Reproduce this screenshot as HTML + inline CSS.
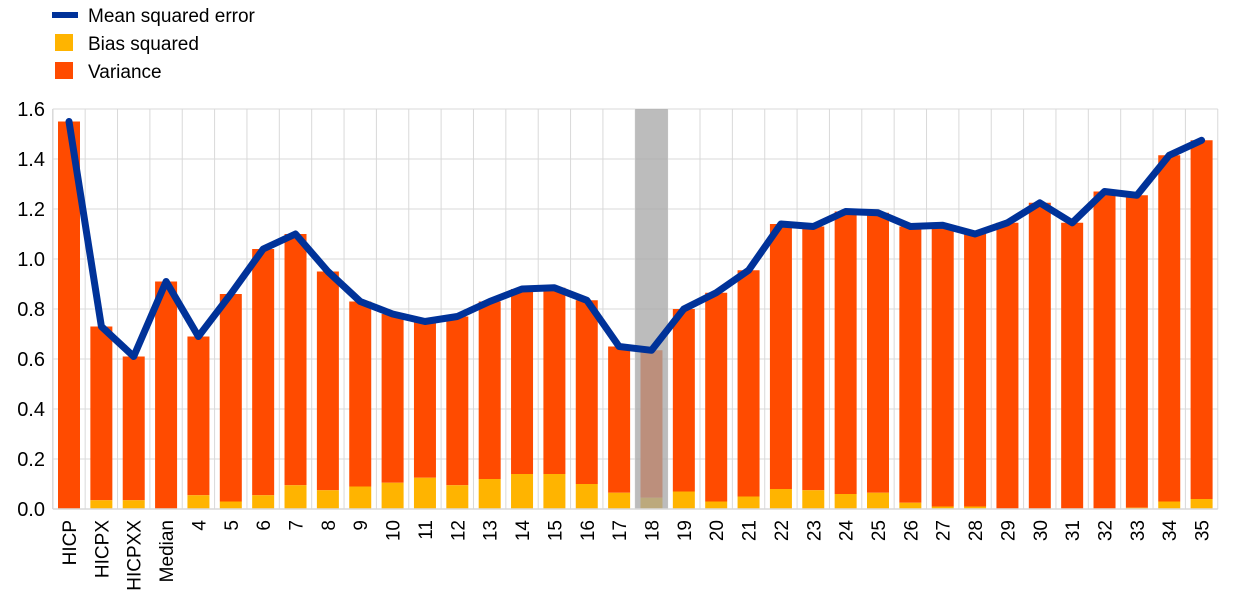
<!DOCTYPE html>
<html><head><meta charset="utf-8"><style>
html,body{margin:0;padding:0;background:#fff;}
svg{display:block;font-family:"Liberation Sans",Arial,sans-serif;}
</style></head><body>
<svg id="s" width="1240" height="609" viewBox="0 0 1240 609" xmlns="http://www.w3.org/2000/svg">
<rect width="1240" height="609" fill="#fff"/>
<g id="grid" stroke="#d9d9d9" stroke-width="1"></g>
<g id="bars"></g>
<rect x="635.3" y="109" width="32.4" height="400" fill="#a6a6a6" fill-opacity="0.75"/>
<polyline id="line" fill="none" stroke="#003299" stroke-width="7" stroke-linejoin="round" stroke-linecap="round"/>
<line x1="52.8" y1="509" x2="1217.8" y2="509" stroke="#d9d9d9" stroke-width="1.5"/>
<line x1="52.8" y1="109" x2="52.8" y2="509" stroke="#d9d9d9" stroke-width="1.5"/>
<g font-size="20" fill="#000" text-anchor="end">
<text x="45" y="516">0.0</text><text x="45" y="466">0.2</text><text x="45" y="416">0.4</text><text x="45" y="366">0.6</text><text x="45" y="316">0.8</text><text x="45" y="266">1.0</text><text x="45" y="216">1.2</text><text x="45" y="166">1.4</text><text x="45" y="116">1.6</text>
</g>
<g font-size="19" fill="#000" text-anchor="end">
<text transform="translate(76,520) rotate(-90)">HICP</text>
<text transform="translate(108.4,520) rotate(-90)">HICPX</text>
<text transform="translate(140.7,520) rotate(-90)">HICPXX</text>
<text transform="translate(173.1,520) rotate(-90)">Median</text>
<text transform="translate(205.4,520) rotate(-90)">4</text>
<text transform="translate(237.8,520) rotate(-90)">5</text>
<text transform="translate(270.2,520) rotate(-90)">6</text>
<text transform="translate(302.5,520) rotate(-90)">7</text>
<text transform="translate(334.9,520) rotate(-90)">8</text>
<text transform="translate(367.2,520) rotate(-90)">9</text>
<text transform="translate(399.6,520) rotate(-90)">10</text>
<text transform="translate(432,520) rotate(-90)">11</text>
<text transform="translate(464.3,520) rotate(-90)">12</text>
<text transform="translate(496.7,520) rotate(-90)">13</text>
<text transform="translate(529,520) rotate(-90)">14</text>
<text transform="translate(561.4,520) rotate(-90)">15</text>
<text transform="translate(593.8,520) rotate(-90)">16</text>
<text transform="translate(626.1,520) rotate(-90)">17</text>
<text transform="translate(658.5,520) rotate(-90)">18</text>
<text transform="translate(690.8,520) rotate(-90)">19</text>
<text transform="translate(723.2,520) rotate(-90)">20</text>
<text transform="translate(755.6,520) rotate(-90)">21</text>
<text transform="translate(787.9,520) rotate(-90)">22</text>
<text transform="translate(820.3,520) rotate(-90)">23</text>
<text transform="translate(852.6,520) rotate(-90)">24</text>
<text transform="translate(885,520) rotate(-90)">25</text>
<text transform="translate(917.4,520) rotate(-90)">26</text>
<text transform="translate(949.7,520) rotate(-90)">27</text>
<text transform="translate(982.1,520) rotate(-90)">28</text>
<text transform="translate(1014.4,520) rotate(-90)">29</text>
<text transform="translate(1046.8,520) rotate(-90)">30</text>
<text transform="translate(1079.2,520) rotate(-90)">31</text>
<text transform="translate(1111.5,520) rotate(-90)">32</text>
<text transform="translate(1143.9,520) rotate(-90)">33</text>
<text transform="translate(1176.2,520) rotate(-90)">34</text>
<text transform="translate(1208.6,520) rotate(-90)">35</text>
</g>
<line x1="52" y1="15" x2="78" y2="15" stroke="#003299" stroke-width="6"/>
<rect x="55" y="34" width="18" height="17" fill="#ffb400"/>
<rect x="55" y="62" width="18" height="17" fill="#ff4b00"/>
<g font-size="19" fill="#000">
<text x="88" y="22">Mean squared error</text>
<text x="88" y="50">Bias squared</text>
<text x="88" y="78">Variance</text>
</g>
</svg>
<script>
var mse=[1.55,0.73,0.61,0.91,0.69,0.86,1.04,1.10,0.95,0.83,0.78,0.75,0.77,0.83,0.88,0.885,0.835,0.65,0.635,0.80,0.865,0.955,1.14,1.13,1.19,1.185,1.13,1.135,1.10,1.145,1.225,1.145,1.27,1.255,1.415,1.475];
var bias=[0,0.035,0.035,0,0.055,0.03,0.055,0.095,0.075,0.09,0.105,0.125,0.095,0.12,0.14,0.14,0.10,0.065,0.045,0.07,0.03,0.05,0.08,0.075,0.06,0.065,0.025,0.01,0.01,0,0,0,0,0.005,0.03,0.04];
var NS="http://www.w3.org/2000/svg";
function el(p,t,a){var e=document.createElementNS(NS,t);for(var k in a)e.setAttribute(k,a[k]);p.appendChild(e);return e;}
var g=document.getElementById('grid'),b=document.getElementById('bars');
for(var i=1;i<=8;i++){var y=509-i*50;el(g,'line',{x1:52.8,y1:y,x2:1217.8,y2:y});}
for(var i=1;i<=36;i++){var x=52.8+i*32.36;el(g,'line',{x1:x,y1:109,x2:x,y2:509});}
var pts=[];
for(var i=0;i<36;i++){var c=69+32.36*i;var yt=509-mse[i]*250,yb=509-bias[i]*250;
el(b,'rect',{x:c-11,y:yt,width:22,height:yb-yt,fill:'#ff4b00'});
if(bias[i]>0)el(b,'rect',{x:c-11,y:yb,width:22,height:509-yb,fill:'#ffb400'});
pts.push(c.toFixed(1)+','+yt.toFixed(1));}
document.getElementById('line').setAttribute('points',pts.join(' '));
</script>
</body></html>
